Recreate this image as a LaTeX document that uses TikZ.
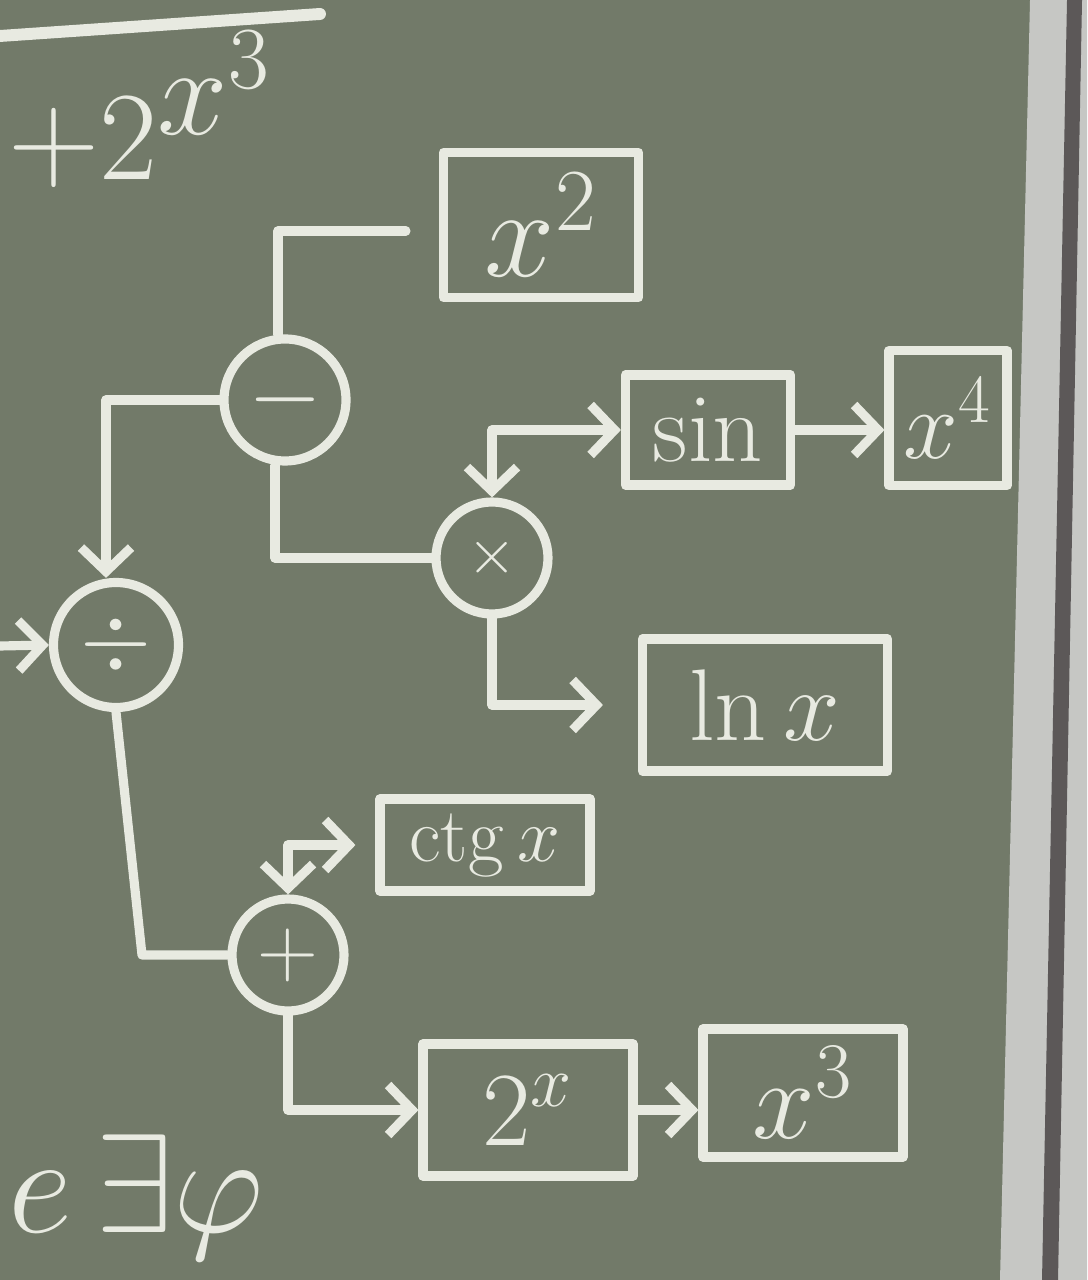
\RequirePackage{fix-cm}
\documentclass[tikz,border=0pt]{standalone}
\usepackage{amsmath}
\usetikzlibrary{arrows.meta}

\definecolor{board}{RGB}{114,122,105}
\definecolor{chalk}{RGB}{232,234,225}
\definecolor{frame}{RGB}{198,199,196}
\definecolor{frameshade}{RGB}{92,88,88}
\newcommand{\chalksize}[1]{\fontsize{#1}{#1}\selectfont}

\begin{document}
\begin{tikzpicture}[line width=2.6pt, chalk, line cap=round, line join=round,
                    >={Straight Barb[length=2.4mm, width=5mm]}]
    \tikzset{box/.style={draw, rectangle, inner sep=0pt}}
    \tikzset{op/.style={draw, circle, inner sep=0pt, minimum size=1.12cm}}
    \tikzset{note/.style={inner sep=0pt}}

    % Board and frame
    \fill [board] (0, 0) rectangle (10.87, -12.8);
    \useasboundingbox (0, 0) rectangle (10.87, -12.8);
    \fill [frame] (10.30, 0) -- (10.87, 0) -- (10.87, -12.8)
                  -- (10.00, -12.8) -- cycle;
    \fill [frameshade] (10.67, 0) -- (10.82, 0) -- (10.58, -12.8)
                       -- (10.42, -12.8) -- cycle;

    % Left-over writing
    \draw [line width=3.4pt] (0, -0.36) -- (3.20, -0.14);
    \node [note, anchor=base west] (top) at (0.04, -1.80)
          {\chalksize{36}${+}2^{\textstyle x^{3}}$};
    \node [note, anchor=base west] (bot) at (0.04, -12.32)
          {\chalksize{40}$e\,\exists\varphi$};

    % Operations
    \node [op, minimum size=1.25cm] (div) at (1.16, -6.45) {\chalksize{26}$\div$};
    \node [op, minimum size=1.22cm] (minus) at (2.85, -4.00) {\chalksize{27}$-$};
    \node [op] (times) at (4.92, -5.58) {\chalksize{18}$\times$};
    \node [op] (plus) at (2.88, -9.55) {\chalksize{24}$+$};

    % Functions
    \node [box, minimum width=1.95cm, minimum height=1.45cm]
          (sq) at (5.41, -2.25) {\chalksize{36}$x^2$};
    \node [box, minimum width=1.65cm, minimum height=1.10cm]
          (sin) at (7.08, -4.30) {\chalksize{28}sin};
    \node [box, minimum width=1.18cm, minimum height=1.35cm]
          (qu) at (9.48, -4.18) {\chalksize{28}$x^4$};
    \node [box, minimum width=2.45cm, minimum height=1.32cm]
          (ln) at (7.65, -7.05) {\chalksize{29}$\ln x$};
    \node [box, minimum width=2.10cm, minimum height=0.92cm]
          (ctg) at (4.85, -8.45) {\chalksize{22}$\operatorname{ctg} x$};
    \node [box, minimum width=2.10cm, minimum height=1.32cm]
          (ex) at (5.28, -11.10) {\chalksize{30}$2^x$};
    \node [box, minimum width=2.00cm, minimum height=1.28cm]
          (cu) at (8.03, -10.93) {\chalksize{32}$x^3$};

    % Input
    \coordinate (in) at (0, -6.46);

    % Edges
    \draw [->] (in) -- (div.west);
    \draw [->] (minus.west) -| ([xshift=-1mm]div.north);
    \draw ([xshift=-0.7mm]minus.north) |- ([xshift=-3.3mm, yshift=-0.6mm]sq.west);
    \draw ([xshift=-1mm]minus.south) |- (times.west);
    \draw [<->] (times.north) |- (sin.west);
    \draw [->] (sin.east) -- (sin.east -| qu.west);
    \draw [->] (times.south) |- ([xshift=-3.5mm]ln.west);
    \draw (div.south) -- ([xshift=2.6mm]div.south |- plus.west) -- (plus.west);
    \draw [<->] (plus.north) |- ([xshift=-2mm]ctg.west);
    \draw [->] (plus.south) |- (ex.west);
    \draw [->] (ex.east) -- (ex.east -| cu.west);
\end{tikzpicture}
\end{document}
